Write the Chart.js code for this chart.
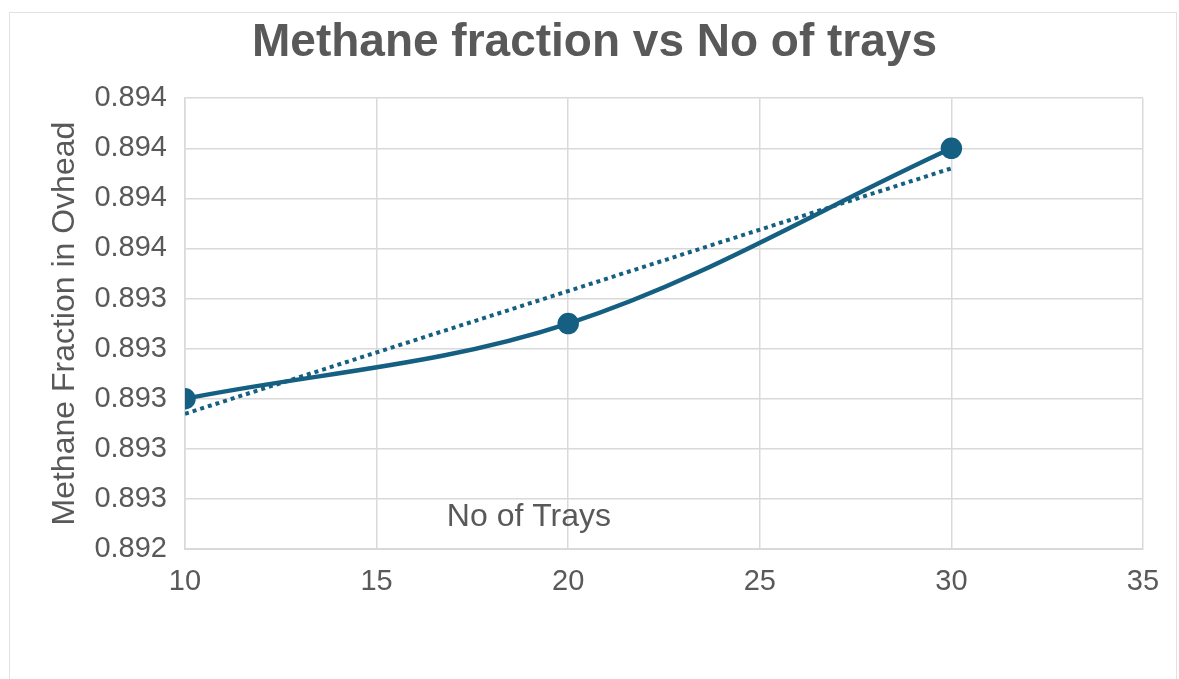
<!DOCTYPE html>
<html>
<head>
<meta charset="utf-8">
<script src="https://cdn.jsdelivr.net/npm/chart.js@4/dist/chart.umd.min.js"></script>
<style>
  html, body { margin: 0; padding: 0; background: #fff; }
  body { width: 1179px; height: 679px; position: relative; overflow: hidden; }
  #frame { position: absolute; left: 9px; top: 12px; width: 1168px; height: 720px;
           border: 1px solid #e2e2e2; box-sizing: border-box; }
  #wrap { position: absolute; left: 0; top: 0; width: 1179px; height: 679px; }
</style>
</head>
<body>
<div id="frame"></div>
<div id="wrap"><canvas id="c" width="1179" height="679"></canvas></div>
<script>
// Number of trays and the methane fraction in the overhead stream
const trays = [10, 20, 30];
const methaneFraction = [0.8930, 0.8933, 0.8940];

// Linear trendline end points
const trendX = [10, 30];
const trendY = [0.89294, 0.89392];

// Axis ticks
const yTickValues = [0.8924, 0.8926, 0.8928, 0.8930, 0.8932, 0.8934, 0.8936, 0.8938, 0.8940, 0.8942];
const xTickValues = [10, 15, 20, 25, 30, 35];

const chartTitle = 'Methane fraction vs No of trays';
const yTitle = 'Methane Fraction in Ovhead';
const xTitle = 'No of Trays';

const FONT = '"Liberation Sans", Arial, sans-serif';
const TEXT = '#595959';
const GRID = '#d9d9d9';
const BLUE = '#156082';

// Draws the x axis title inside the plot area, near the bottom
const innerXTitle = {
  id: 'innerXTitle',
  afterDraw(chart, args, opts) {
    const a = chart.chartArea;
    const ctx = chart.ctx;
    ctx.save();
    ctx.font = opts.size + 'px ' + FONT;
    ctx.fillStyle = TEXT;
    ctx.textAlign = 'center';
    ctx.textBaseline = 'middle';
    ctx.fillText(opts.text, a.left + a.width * opts.xFrac, a.bottom - opts.fromBottom);
    ctx.restore();
  }
};

new Chart(document.getElementById('c'), {
  type: 'scatter',
  data: {
    datasets: [
      {
        label: 'Methane fraction',
        data: trays.map((x, i) => ({ x, y: methaneFraction[i] })),
        showLine: true,
        borderColor: BLUE,
        backgroundColor: BLUE,
        borderWidth: 4.5,
        pointRadius: 8.5,
        pointHoverRadius: 8.5,
        tension: 0.35,
        order: 1
      },
      {
        label: 'Linear trend',
        data: trendX.map((x, i) => ({ x, y: trendY[i] })),
        showLine: true,
        borderColor: BLUE,
        borderWidth: 4,
        borderDash: [4, 4],
        pointRadius: 0,
        pointHoverRadius: 0,
        order: 2
      }
    ]
  },
  options: {
    responsive: false,
    animation: false,
    layout: { padding: { left: 46, right: 36, top: 0, bottom: 64 } },
    plugins: {
      legend: { display: false },
      tooltip: { enabled: false },
      title: {
        display: true,
        text: chartTitle,
        color: TEXT,
        font: { family: FONT, size: 46, weight: 'bold' },
        padding: { top: 16, bottom: 27 }
      },
      innerXTitle: { text: xTitle, size: 32, xFrac: 0.359, fromBottom: 32 }
    },
    scales: {
      x: {
        type: 'linear',
        min: 10,
        max: 35,
        afterBuildTicks: s => { s.ticks = xTickValues.map(v => ({ value: v })); },
        afterFit: s => { s.height = 66; },
        grid: { color: GRID, lineWidth: 1.5, drawTicks: false },
        border: { color: GRID, width: 2 },
        ticks: { color: TEXT, font: { family: FONT, size: 29 }, padding: 16, maxRotation: 0 }
      },
      y: {
        min: 0.8924,
        max: 0.8942,
        afterBuildTicks: s => { s.ticks = yTickValues.map(v => ({ value: v })); },
        afterFit: s => { s.width = 139; },
        grid: { color: GRID, lineWidth: 1.5, drawTicks: false },
        border: { color: GRID, width: 1.5 },
        ticks: {
          color: TEXT,
          font: { family: FONT, size: 29 },
          padding: 18,
          callback: v => Number(v).toFixed(3)
        },
        title: {
          display: true,
          text: yTitle,
          color: TEXT,
          font: { family: FONT, size: 32 },
          padding: { top: 0, bottom: 6 }
        }
      }
    }
  },
  plugins: [innerXTitle]
});
</script>
</body>
</html>
